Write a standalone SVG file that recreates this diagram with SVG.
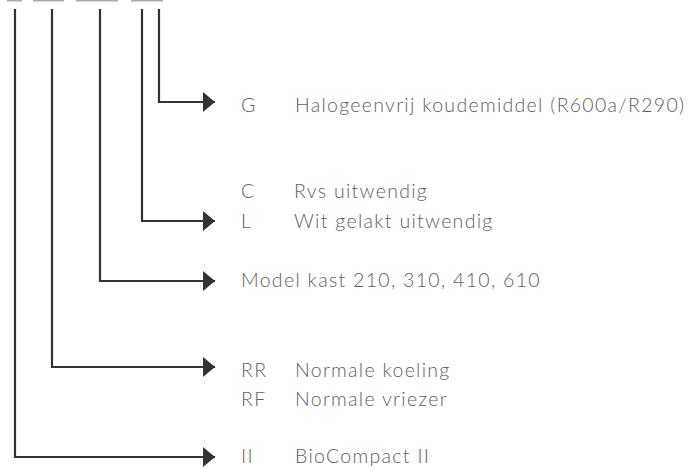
<svg xmlns="http://www.w3.org/2000/svg" width="691" height="468" viewBox="0 0 691 468">
<style>
.t{font-family:Lato,"Open Sans","Liberation Sans",sans-serif;font-weight:300;font-size:19.5px;fill:#5e5e5e;letter-spacing:1.3px}
.c{fill:none;stroke:#333;stroke-width:2.2}
.bar{fill:#aaa}
</style>
<defs>
<marker id="ah" markerUnits="userSpaceOnUse" markerWidth="13" markerHeight="22" refX="12" refY="10" orient="auto">
<path d="M0,0 L12,10 L0,20 Z" fill="#333"/>
</marker>
</defs>
<g id="bars">
<rect class="bar" x="7" y="0" width="15" height="1.5"/>
<rect class="bar" x="33" y="0" width="31" height="1.5"/>
<rect class="bar" x="76" y="0" width="42" height="1.5"/>
<rect class="bar" x="131" y="0" width="32" height="1.5"/>
</g>
<g id="connectors">
<path class="c" d="M159,9 V102 H215" marker-end="url(#ah)"/>
<path class="c" d="M142,9 V221 H215" marker-end="url(#ah)"/>
<path class="c" d="M100,9 V281 H215" marker-end="url(#ah)"/>
<path class="c" d="M52,9 V367 H215" marker-end="url(#ah)"/>
<path class="c" d="M15,9 V457 H215" marker-end="url(#ah)"/>
</g>
<g id="node-g">
<text class="t" x="241" y="112">G</text>
<text class="t" x="295" y="112">Halogeenvrij koudemiddel (R600a/R290)</text>
</g>
<g id="node-cl">
<text class="t" x="241" y="198">C</text>
<text class="t" x="294" y="198">Rvs uitwendig</text>
<text class="t" x="241" y="228">L</text>
<text class="t" x="294" y="228">Wit gelakt uitwendig</text>
</g>
<g id="node-model">
<text class="t" x="241" y="287">Model kast 210, 310, 410, 610</text>
</g>
<g id="node-r">
<text class="t" x="241" y="377">RR</text>
<text class="t" x="295" y="377">Normale koeling</text>
<text class="t" x="241" y="406">RF</text>
<text class="t" x="295" y="406">Normale vriezer</text>
</g>
<g id="node-ii">
<text class="t" x="241" y="463">II</text>
<text class="t" x="295" y="463">BioCompact II</text>
</g>
</svg>
